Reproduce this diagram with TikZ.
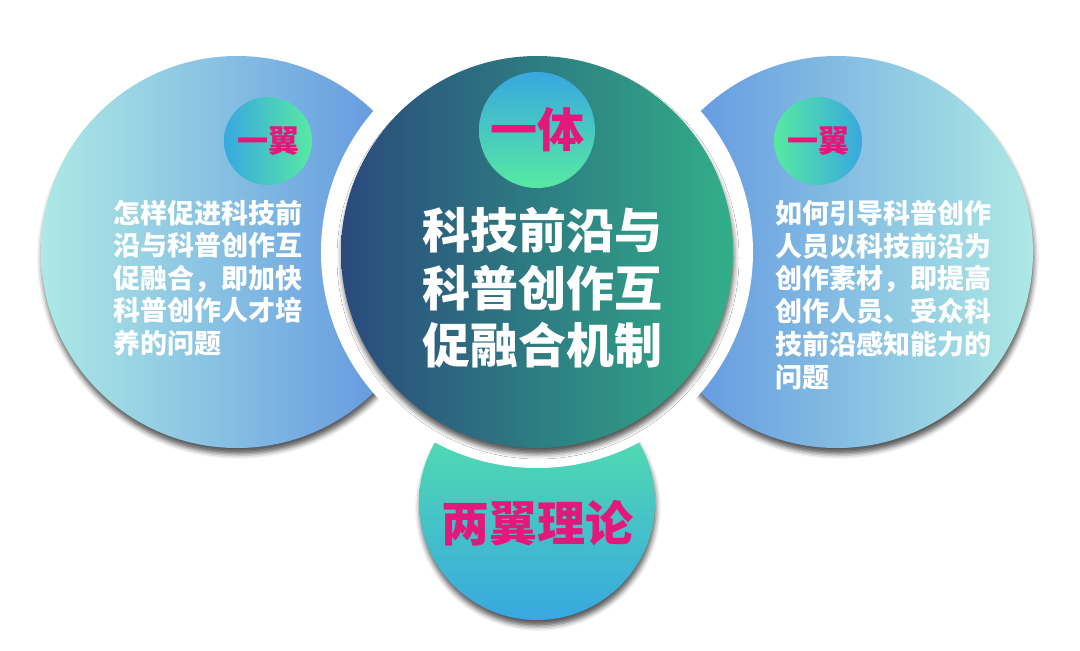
\documentclass[tikz,border=0pt]{standalone}
\usepackage{fontspec}
\newfontfamily\cjk{Noto Sans CJK SC}
\usetikzlibrary{shadows.blur}
\definecolor{cyanL}{HTML}{ADE9E5}
\definecolor{blueR}{HTML}{5A8FE0}
\definecolor{darkB}{HTML}{2A4A7C}
\definecolor{greenC}{HTML}{31AF88}
\definecolor{mint}{HTML}{57E9A2}
\definecolor{skyB}{HTML}{38A8E0}
\definecolor{mag}{HTML}{E3187A}
\begin{document}
\begin{tikzpicture}[x=1pt,y=-1pt,
  wing/.style={blur shadow={shadow xshift=1pt,shadow yshift=-6pt,shadow blur radius=5pt,shadow opacity=65}},
  badge/.style={circle,inner sep=0pt,text=mag,font=\cjk\bfseries\fontsize{31}{31}\selectfont},
  bodytext/.style={inner sep=0pt,text=white,align=left,anchor=west}]
\useasboundingbox (0,0) rectangle (1080,651);
\coordinate (cL) at (237,252);
\coordinate (cC) at (537,252);
\coordinate (cR) at (837,252);
\coordinate (cB) at (537,502);
% wings and base
\shade[wing,left color=cyanL,right color=blueR] (cL) circle (196pt);
\shade[wing,left color=blueR,right color=cyanL] (cR) circle (196pt);
\shade[wing,top color=mint,bottom color=skyB] (cB) circle (118pt);
\fill[white] (cC) circle (216pt);
% body
\shade[wing,left color=darkB,right color=greenC] (cC) circle (196pt);
% badges
\node[badge,minimum size=116pt,top color=skyB,bottom color=mint,
      font=\cjk\bfseries\fontsize{47}{47}\selectfont] (yiti) at (537,130) {一体};
\node[badge,minimum size=88pt,left color=skyB,right color=mint] (yiL) at (268,141) {一翼};
\node[badge,minimum size=88pt,left color=mint,right color=skyB] (yiR) at (818,141) {一翼};
% texts
\node[inner sep=0pt,text=white,align=center,font=\cjk\bfseries\fontsize{48}{57.5}\selectfont]
  (title) at (542,288) {科技前沿与\\科普创作互\\促融合机制};
\node[bodytext,font=\cjk\bfseries\fontsize{27}{32.5}\selectfont] (tL) at (113,278)
  {怎样促进科技前\\沿与科普创作互\\促融合，即加快\\科普创作人才培\\养的问题};
\node[bodytext,font=\cjk\bfseries\fontsize{27}{32.8}\selectfont] (tR) at (775,295)
  {如何引导科普创作\\人员以科技前沿为\\创作素材，即提高\\创作人员、受众科\\技前沿感知能力的\\问题};
\node[inner sep=0pt,text=mag,font=\cjk\bfseries\fontsize{48}{48}\selectfont] (liang) at (537,523) {两翼理论};
\end{tikzpicture}
\end{document}
